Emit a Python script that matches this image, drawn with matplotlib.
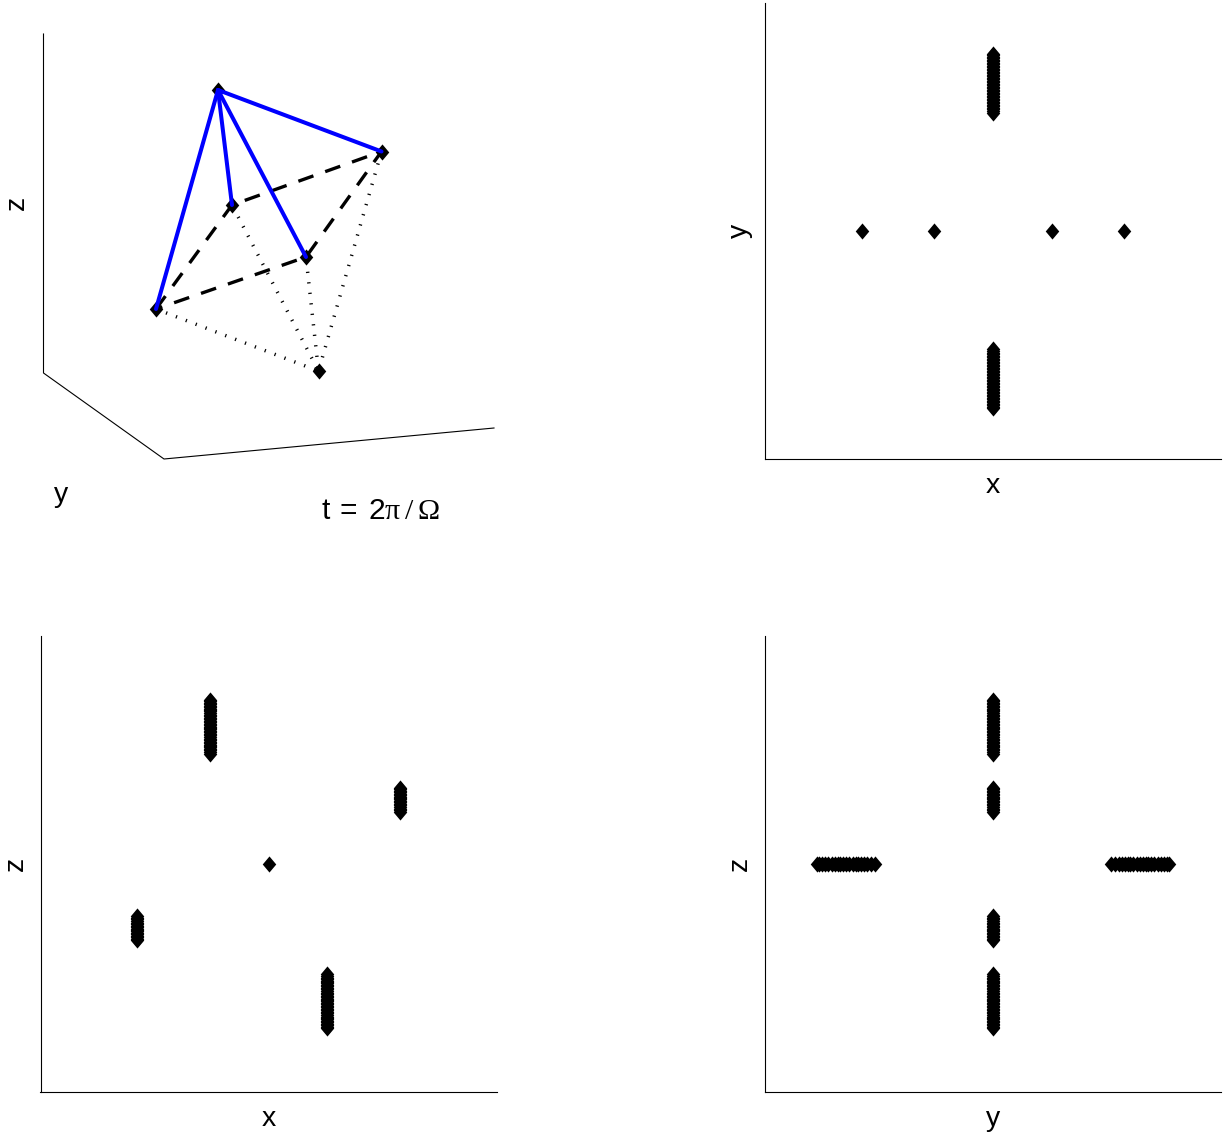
#!/usr/bin/env python3
"""Octahedron of six points at t = 2 pi / Omega, 3D view and three projections."""

import matplotlib
matplotlib.use('Agg')  # Use non-interactive backend
import matplotlib.pyplot as plt

W, H = 1225, 1135

# projected 3D view, in reference pixels
apex = (218, 90)
bottom = (318.5, 371)
square_x = [156, 232, 381.5, 306]
square_y = [309, 205, 151.5, 257]
box_x = [43.5, 43.5, 164, 494]
box_y = [34, 373, 459, 428]

# spread of each point along its oscillation, axis units
long_upper = [0.721, 0.714, 0.708, 0.701, 0.695, 0.688, 0.682, 0.675, 0.669, 0.662,
              0.655, 0.649, 0.642, 0.636, 0.629, 0.623, 0.616, 0.610, 0.603, 0.596,
              0.590, 0.583, 0.577, 0.570, 0.564, 0.557, 0.550, 0.544, 0.537, 0.531,
              0.524, 0.518, 0.511, 0.504, 0.498, 0.491, 0.482]
long_lower = [-v for v in long_upper]
short_upper = [0.335, 0.328, 0.322, 0.315, 0.309, 0.302, 0.296, 0.289, 0.283, 0.276,
               0.270, 0.263, 0.257, 0.250, 0.243, 0.237, 0.230]
short_lower = [-v for v in short_upper]
xy_upper = [0.777, 0.770, 0.764, 0.757, 0.750, 0.744, 0.737, 0.731, 0.724, 0.718,
            0.711, 0.704, 0.698, 0.691, 0.685, 0.678, 0.672, 0.665, 0.658, 0.652,
            0.645, 0.639, 0.632, 0.626, 0.619, 0.612, 0.606, 0.599, 0.593, 0.586,
            0.580, 0.573, 0.566, 0.560, 0.553, 0.547, 0.540, 0.534, 0.527, 0.518]
xy_lower = [-v for v in xy_upper]

# x-y panel
xy_single_x = [-0.575, -0.257, 0.257, 0.575]
xy_bar_x = 0.0

# x-z panel
xz_single = (0.0, 0.0)
xz_long_x = [-0.257, 0.257]
xz_short_x = [0.575, -0.575]

# y-z panel
yz_side_left = [-0.774, -0.761, -0.748, -0.735, -0.722, -0.708, -0.695, -0.682, -0.669, -0.656,
                -0.643, -0.630, -0.616, -0.603, -0.590, -0.577, -0.564, -0.551, -0.537, -0.518]
yz_side_right = [-v for v in yz_side_left]

plt.rcParams['font.family'] = ['Liberation Sans', 'DejaVu Sans']
plt.rcParams['mathtext.fontset'] = 'custom'
plt.rcParams['mathtext.rm'] = 'Liberation Serif'
plt.rcParams['mathtext.sf'] = 'Liberation Sans'
plt.rcParams['lines.scale_dashes'] = False

DIAMOND = [(-0.84, 0), (-0.84, 0.0), (0, 1), (0.84, 0), (0, -1)]
MS = 11.6
LABEL = 20.5


def make_axes(fig, left, top, right, bottom):
    return fig.add_axes([left / W, 1 - bottom / H, (right - left) / W, (bottom - top) / H])


def panel(fig, left, top, xlabel, ylabel):
    ax = make_axes(fig, left, top, left + 456, top + 456)
    ax.set_xlim(-1, 1)
    ax.set_ylim(-1, 1)
    ax.set_xticks([])
    ax.set_yticks([])
    ax.spines['top'].set_visible(False)
    ax.spines['right'].set_visible(False)
    ax.spines['left'].set_linewidth(0.8)
    ax.spines['bottom'].set_linewidth(0.8)
    ax.set_xlabel(xlabel, fontsize=LABEL, labelpad=10)
    ax.set_ylabel(ylabel, fontsize=LABEL, labelpad=8.5)
    return ax


def pts(ax, xs, ys):
    ax.plot(xs, ys, ls='none', marker=DIAMOND, ms=MS, color='black', mew=0, clip_on=False)


fig = plt.figure(figsize=(W / 100, H / 100), dpi=100)

# 3D view
ax = make_axes(fig, 0, 0, W, H)
ax.set_xlim(0, W)
ax.set_ylim(H, 0)
ax.axis('off')
ax.patch.set_visible(False)
ax.plot(box_x, box_y, color='black', lw=0.8)
for sx, sy in zip(square_x, square_y):
    ax.plot([bottom[0], sx], [bottom[1], sy], color='black', lw=2.5,
            ls=(5.0, (0.9, 6.7)), dash_capstyle='butt')
ax.plot(square_x + square_x[:1], square_y + square_y[:1], color='black', lw=2.4,
        ls=(0, (11.5, 9)), dash_capstyle='butt')
pts(ax, square_x + [apex[0], bottom[0]], square_y + [apex[1], bottom[1]])
for sx, sy in zip(square_x, square_y):
    ax.plot([apex[0], sx], [apex[1], sy], color='#0000ff', lw=2.9, solid_capstyle='round')
ax.text(17, 203, 'z', fontsize=LABEL, rotation=90, ha='center', va='center')
ax.text(61, 495, 'y', fontsize=LABEL, ha='center', va='center')
ax.text(380.5, 511, r'$\mathsf{t\/=\/2}\mathrm{\pi}\,/\,\mathrm{\Omega}$', fontsize=21.5, ha='center', va='center')

# x-y
ax = panel(fig, 765, 3, 'x', 'y')
pts(ax, xy_single_x, [0.0] * len(xy_single_x))
pts(ax, [xy_bar_x] * len(xy_upper), xy_upper)
pts(ax, [xy_bar_x] * len(xy_lower), xy_lower)

# x-z
ax = panel(fig, 40.5, 636, 'x', 'z')
pts(ax, [xz_single[0]], [xz_single[1]])
pts(ax, [xz_long_x[0]] * len(long_upper), long_upper)
pts(ax, [xz_long_x[1]] * len(long_lower), long_lower)
pts(ax, [xz_short_x[0]] * len(short_upper), short_upper)
pts(ax, [xz_short_x[1]] * len(short_lower), short_lower)

# y-z
ax = panel(fig, 765, 636, 'y', 'z')
pts(ax, yz_side_left, [0.0] * len(yz_side_left))
pts(ax, yz_side_right, [0.0] * len(yz_side_right))
for vals in (long_upper, long_lower, short_upper, short_lower):
    pts(ax, [0.0] * len(vals), vals)

fig.savefig('out.png', dpi=100, facecolor='white')
